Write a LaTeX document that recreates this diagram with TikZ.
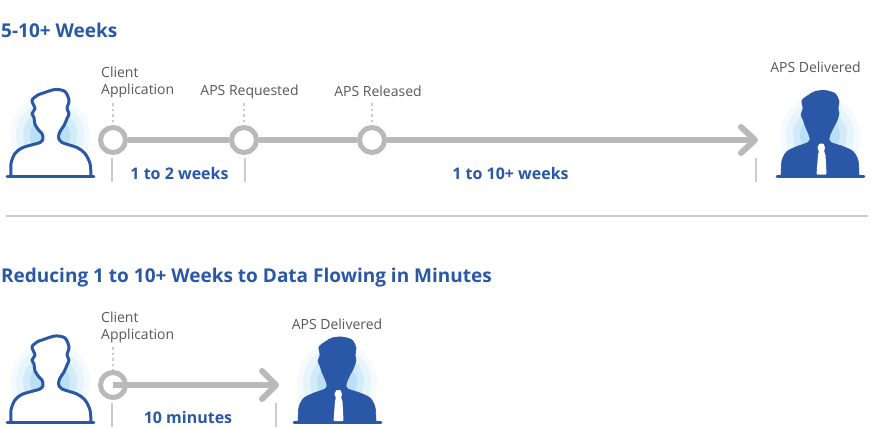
\documentclass[tikz,border=0pt]{standalone}
\usepackage{fontspec}
\setmainfont{Open Sans}
\definecolor{hblue}{HTML}{2A57A6}
\definecolor{lgrey}{HTML}{B9B9B9}
\definecolor{tick}{HTML}{CCCCCC}
\definecolor{txt}{HTML}{585858}
\definecolor{hA}{HTML}{F4FAFD}
\definecolor{hB}{HTML}{E6F4FB}
\definecolor{hC}{HTML}{D3EBF8}
\definecolor{hD}{HTML}{B9E0F5}
\newcommand{\bodypath}{plot[smooth,tension=0.5] coordinates {(-39,-1) (-39,-13) (-35,-23) (-27,-29) (-10,-34) (-7,-38) (-8,-43) (-11,-46) (-15,-52) (-16,-59) (-18,-63) (-15,-68) (-18,-76) (-13,-81) (-8,-83) (5,-87) (15,-85) (19,-76) (17,-68) (19,-63) (17,-58) (14,-51) (10,-45) (8.5,-39) (12,-34) (27,-29) (35,-23) (40,-13) (41,-1)}}
\newcommand{\darkpath}{plot[smooth,tension=0.5] coordinates {(-39,-1) (-38,-16) (-33,-25) (-23,-30) (-12,-34) (-10,-38) (-12,-44) (-15,-51) (-17,-57) (-19,-62) (-17,-68) (-18,-76) (-12,-81) (-5,-85) (5,-86) (15,-83) (19,-75) (18,-68) (19,-63) (17,-56) (14,-50) (11,-44) (9,-38) (11,-34) (23,-30) (33,-25) (38,-16) (39,-1)}}
\tikzset{
  halo/.pic={
    \fill[hA] (0,-41) circle[radius=40];
    \fill[hB] (0,-41) circle[radius=34];
    \fill[hC] (0,-41) circle[radius=27];
    \fill[hD] (0,-41) circle[radius=20];
  },
  outlineperson/.pic={
    \pic {halo};
    \draw[hblue,line width=3pt,fill=white,line join=round] \bodypath;
    \draw[hblue,line width=2.8pt,line cap=round] (-43,-0.3) -- (44,-0.3);
  },
  solidperson/.pic={
    \pic {halo};
    \filldraw[hblue,line width=0.6pt] \darkpath -- cycle;
    \draw[hblue,line width=2.8pt,line cap=round] (-43,-0.3) -- (44,-0.3);
    \fill[white,rounded corners=0.8pt] (-0.5,-33) -- (3.5,-33) -- (5,-29) -- (4,-25) -- (5.5,-22) -- (6.5,-2) -- (-3.5,-2) -- (-2,-22) -- (-1,-25) -- (-2.7,-29) -- cycle;
  },
  heading/.style={font=\bfseries\fontsize{19}{22}\selectfont,text=hblue,anchor=west,inner sep=0pt},
  span/.style={font=\bfseries\fontsize{16}{18}\selectfont,text=hblue,inner sep=0pt},
  lab/.style={font=\fontsize{14}{17}\selectfont,text=txt,inner sep=0pt},
  ring/.style={circle,draw=lgrey,line width=5pt,fill=white,minimum size=25pt,inner sep=0pt},
  track/.style={draw=lgrey,line width=6pt},
  head/.style={draw=lgrey,line width=6pt,line cap=round,line join=round},
  dots/.style={draw=tick,line width=2.5pt,dash pattern=on 2.5pt off 3pt},
  ticker/.style={draw=tick,line width=1.5pt},
}
\begin{document}
\begin{tikzpicture}[x=1pt,y=-1pt]
\useasboundingbox (0,0) rectangle (888,428);
\fill[white] (0,0) rectangle (888,428);

% top
\node[heading] (h1) at (1,30) {5-10+ Weeks};
\pic at (50,176.5) {outlineperson};
\pic at (820,176.5) {solidperson};
\node[lab,align=left,anchor=west] (l1) at (101,82.5) {Client\\Application};
\node[lab] (l2) at (249.5,91.5) {APS Requested};
\node[lab] (l3) at (378,91.5) {APS Released};
\node[lab] (l4) at (815.5,67.5) {APS Delivered};
\coordinate (d1) at (113,103);
\coordinate (d2) at (244,103);
\coordinate (d3) at (372,103);
\node[ring] (a) at (113,140) {};
\node[ring] (b) at (244,140) {};
\node[ring] (c) at (372,140) {};
\coordinate (e) at (755,140);
\draw[dots] (d1) -- (a.north);
\draw[dots] (d2) -- (b.north);
\draw[dots] (d3) -- (c.north);
\draw[track] (a) -- (b);
\draw[track] (b) -- (c);
\draw[track] (c) -- (e);
\coordinate (e1) at (741,127);
\coordinate (e2) at (741,153);
\draw[head] (e1) -- (e) -- (e2);
\coordinate (t1a) at (112,158); \coordinate (t1b) at (112,182);
\coordinate (t2a) at (245,158); \coordinate (t2b) at (245,182);
\coordinate (t3a) at (756,158); \coordinate (t3b) at (756,182);
\draw[ticker] (t1a) -- (t1b);
\draw[ticker] (t2a) -- (t2b);
\draw[ticker] (t3a) -- (t3b);
\node[span] (s1) at (179.5,173.5) {1 to 2 weeks};
\node[span] (s2) at (510.5,173.5) {1 to 10+ weeks};

% separator
\coordinate (sa) at (6,216); \coordinate (sb) at (868,216);
\draw[ticker] (sa) -- (sb);

% bottom
\node[heading] (h2) at (1,278) {Reducing 1 to 10+ Weeks to Data Flowing in Minutes};
\pic at (50,423) {outlineperson};
\pic at (337,423) {solidperson};
\node[lab,align=left,anchor=west] (l5) at (101,327.5) {Client\\Application};
\node[lab] (l6) at (337,324.5) {APS Delivered};
\coordinate (d5) at (113,347);
\node[ring] (f) at (113,385) {};
\coordinate (g) at (276,385);
\draw[dots] (d5) -- (f.north);
\draw[track] (f.center) -- (g);
\coordinate (g1) at (262,371);
\coordinate (g2) at (262,399);
\draw[head] (g1) -- (g) -- (g2);
\coordinate (t5a) at (112,403); \coordinate (t5b) at (112,427);
\coordinate (t6a) at (276,403); \coordinate (t6b) at (276,427);
\draw[ticker] (t5a) -- (t5b);
\draw[ticker] (t6a) -- (t6b);
\node[span] (s3) at (188,417.5) {10 minutes};
\end{tikzpicture}
\end{document}
